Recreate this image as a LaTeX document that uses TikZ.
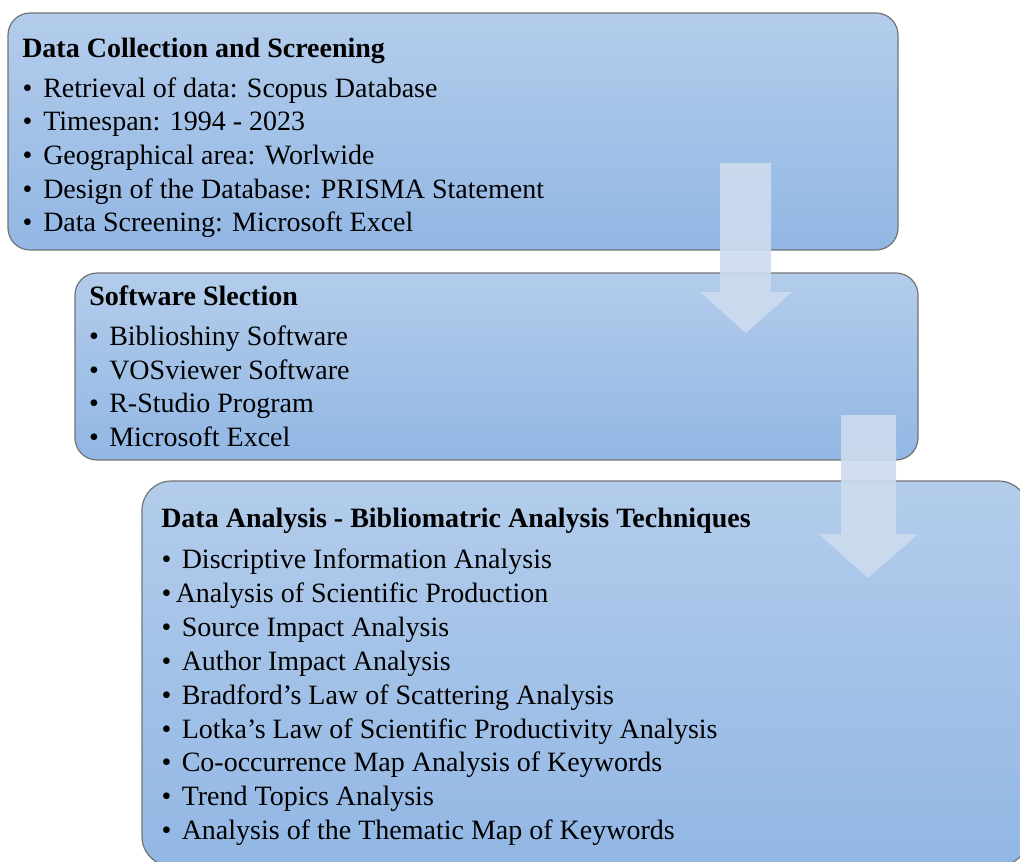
\documentclass[tikz,border=0pt]{standalone}
\usepackage{fontspec}
\setmainfont{Liberation Serif}
\definecolor{boxtop}{RGB}{179,204,235}
\definecolor{boxbot}{RGB}{146,183,228}
\definecolor{arrowfill}{RGB}{205,220,239}
\begin{document}
\begin{tikzpicture}[x=0.75pt,y=-0.75pt,
  stage/.style={draw=black!55, line width=0.9pt, top color=boxtop, bottom color=boxbot},
  flow/.style={fill=arrowfill, fill opacity=0.9},
  line/.style={anchor=base west, inner sep=0pt, font=\fontsize{21}{25}\selectfont},
  dot/.style={anchor=base, inner sep=0pt, font=\fontsize{21}{25}\selectfont},
  head/.style={line, font=\fontsize{21}{25}\selectfont\bfseries}]
\useasboundingbox (0,0) rectangle (1020,861);
\clip (0,0) rectangle (1020,861);

% stage boxes
\path[stage, rounded corners=16.5pt] (8,13) rectangle (898,250);
\path[stage, rounded corners=16.5pt] (75,273) rectangle (918,460);
\path[stage, rounded corners=22pt] (142,481) rectangle (1028,866);

% block arrows between stages
\fill[flow] (720,163) -- (771,163) -- (771,292) -- (792,292) -- (746,333) -- (700,292) -- (720,292) -- cycle;
\fill[flow] (841,415) -- (896,415) -- (896,534) -- (918,534) -- (868,578) -- (819,534) -- (841,534) -- cycle;

% stage 1
\node[head] (h1) at (22,57) {Data Collection and Screening};
\foreach \y [count=\i] in {97,130,164,198,231}
  \node[dot] (p1\i) at (27.5,\y) {•};
\node[line] (a1) at (43,97) {Retrieval of data: Scopus Database};
\node[line] (a2) at (43,130) {Timespan: 1994 - 2023};
\node[line] (a3) at (43,164) {Geographical area: Worlwide};
\node[line] (a4) at (43,198) {Design of the Database: PRISMA Statement};
\node[line] (a5) at (43,231) {Data Screening: Microsoft Excel};

% stage 2
\node[head] (h2) at (89,305) {Software Slection};
\foreach \y [count=\i] in {345,379,412,446}
  \node[dot] (p2\i) at (94,\y) {•};
\node[line] (s1) at (109,345) {Biblioshiny Software};
\node[line] (s2) at (109,379) {VOSviewer Software};
\node[line] (s3) at (109,412) {R-Studio Program};
\node[line] (s4) at (109,446) {Microsoft Excel};

% stage 3
\node[head] (h3) at (161,527.5) {Data Analysis - Bibliomatric Analysis Techniques};
\foreach \y [count=\i] in {568,602,636,670,704,738,771,805,839}
  \node[dot] (p3\i) at (166.5,\y) {•};
\node[line] (d1) at (181.5,568) {Discriptive Information Analysis};
\node[line] (d2) at (175.5,602) {Analysis of Scientific Production};
\node[line] (d3) at (181.5,636) {Source Impact Analysis};
\node[line] (d4) at (181.5,670) {Author Impact Analysis};
\node[line] (d5) at (181.5,704) {Bradford’s Law of Scattering Analysis};
\node[line] (d6) at (181.5,738) {Lotka’s Law of Scientific Productivity Analysis};
\node[line] (d7) at (181.5,771) {Co-occurrence Map Analysis of Keywords};
\node[line] (d8) at (181.5,805) {Trend Topics Analysis};
\node[line] (d9) at (181.5,839) {Analysis of the Thematic Map of Keywords};
\end{tikzpicture}
\end{document}
